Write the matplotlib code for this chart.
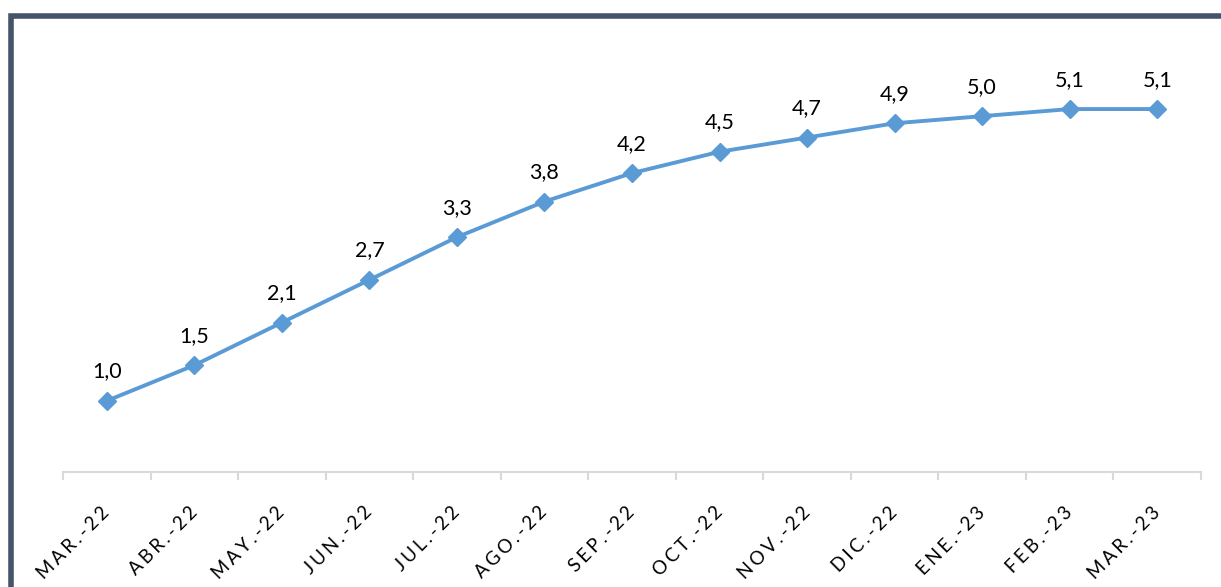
import matplotlib
import matplotlib.pyplot as plt
from matplotlib.patches import Rectangle
import numpy as np

matplotlib.rc('font', family=['Lato', 'DejaVu Sans'])

# data
meses = ['MAR.-22', 'ABR.-22', 'MAY.-22', 'JUN.-22', 'JUL.-22', 'AGO.-22', 'SEP.-22',
         'OCT.-22', 'NOV.-22', 'DIC.-22', 'ENE.-23', 'FEB.-23', 'MAR.-23']
valores = [1.0, 1.5, 2.1, 2.7, 3.3, 3.8, 4.2, 4.5, 4.7, 4.9, 5.0, 5.1, 5.1]

azul = '#5B9BD5'
marco = '#44546A'

fig = plt.figure(figsize=(12.21, 5.87), dpi=100, facecolor='w')
ax = fig.add_axes([63 / 1221, 1 - 472 / 587, (1201 - 63) / 1221, 427 / 587])

x = np.arange(len(meses))
ax.plot(x, valores, color=azul, lw=2.8, marker='D', markersize=9, zorder=3)

for xi, v in zip(x, valores):
    ax.annotate(f'{v:.1f}'.replace('.', ','), (xi, v), xytext=(0, 14),
                textcoords='offset points', ha='center', va='bottom', fontsize=15.5)

ax.set_xlim(-0.5, len(meses) - 0.5)
ax.set_ylim(0, 6)

for s in ['top', 'right', 'left']:
    ax.spines[s].set_visible(False)
ax.spines['bottom'].set_color('#D9D9D9')
ax.spines['bottom'].set_linewidth(1.5)
ax.set_yticks([])

ax.set_xticks(np.arange(-0.5, len(meses)), minor=True)
ax.tick_params(axis='x', which='minor', length=6, width=1.5, color='#D9D9D9')
ax.set_xticks(x)
ax.tick_params(axis='x', which='major', length=0, pad=27)
ax.set_xticklabels(['\u2006'.join(m) for m in meses], rotation=45, ha='right',
                   va='center', rotation_mode='anchor', fontsize=13.5)

# marco exterior
fig.add_artist(Rectangle((10.5 / 1221, -0.1), 1.2, 1 - 15.5 / 587 + 0.1,
                         transform=fig.transFigure, fill=False,
                         edgecolor=marco, lw=4))

plt.savefig('out.png', dpi=100)
